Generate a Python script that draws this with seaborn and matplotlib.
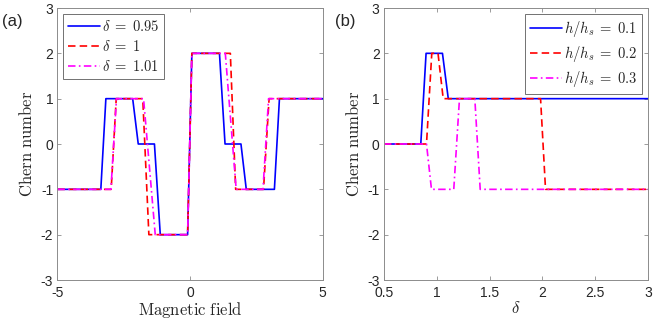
import numpy as np
import pandas as pd
import matplotlib
matplotlib.use("Agg")
import matplotlib.pyplot as plt
import seaborn as sns

# ---- Data: panel (a) ----
a_labels = [r"$\delta\;=\;0.95$", r"$\delta\;=\;1$", r"$\delta\;=\;1.01$"]
a1_x = [-5, -3.36, -3.17, -2.16, -1.95, -1.34, -1.12, -0.09, 0.07, 1.11, 1.32, 1.92, 2.12, 3.18, 3.37, 5]
a1_y = [-1, -1, 1, 1, 0, 0, -2, -2, 2, 2, 0, 0, -1, -1, 1, 1]
a2_x = [-5, -2.97, -2.78, -1.78, -1.55, -0.09, 0.07, 1.52, 1.72, 2.77, 2.98, 5]
a2_y = [-1, -1, 1, 1, -2, -2, 2, 2, -1, -1, 1, 1]
a3_x = [-5, -2.98, -2.77, -1.75, -1.31, -0.09, 0.07, 1.33, 1.74, 2.75, 2.96, 5]
a3_y = [-1, -1, 1, 1, -2, -2, 2, 2, -1, -1, 1, 1]

# ---- Data: panel (b) ----
b_labels = [r"$h/h_s\;=\;0.1$", r"$h/h_s\;=\;0.2$", r"$h/h_s\;=\;0.3$"]
b1_x = [0.5, 0.85, 0.90, 1.055, 1.11, 3]
b1_y = [0, 0, 2, 2, 1, 1]
b2_x = [0.5, 0.904, 0.954, 1.013, 1.062, 1.983, 2.03, 3]
b2_y = [0, 0, 2, 2, 1, 1, -1, -1]
b3_x = [0.5, 0.904, 0.951, 1.162, 1.216, 1.361, 1.412, 3]
b3_y = [0, 0, -1, -1, 1, 1, -1, -1]

colors = ["#0000ff", "#ff0000", "#ff00ff"]
dash_patterns = [None, (4.5, 2.5), (4.5, 2, 1, 2)]

sns.set_theme(style="white")
plt.rcParams["font.family"] = ["Liberation Sans", "DejaVu Sans"]
plt.rcParams["mathtext.fontset"] = "cm"
plt.rcParams["axes.unicode_minus"] = False

fig = plt.figure(figsize=(6.64, 3.2), dpi=100)
ax1 = fig.add_axes([0.0863, 0.125, 0.3997, 0.85])
ax2 = fig.add_axes([0.578, 0.125, 0.398, 0.85])

def draw(ax, xs, ys, labels):
    for x, y, lab, c, d in zip(xs, ys, labels, colors, dash_patterns):
        df = pd.DataFrame({"x": x, "y": y})
        kw = {} if d is None else {"dashes": d}
        sns.lineplot(data=df, x="x", y="y", ax=ax, sort=False, estimator=None,
                     color=c, linewidth=1.2, label=lab, **kw)

draw(ax1, [a1_x, a2_x, a3_x], [a1_y, a2_y, a3_y], a_labels)
draw(ax2, [b1_x, b2_x, b3_x], [b1_y, b2_y, b3_y], b_labels)

for ax in (ax1, ax2):
    ax.set_ylim(-3, 3)
    ax.set_yticks([-3, -2, -1, 0, 1, 2, 3])
    ax.tick_params(direction="in", length=3, width=0.6, colors="0.55",
                   labelcolor="#262626", labelsize=10, top=True, right=True,
                   bottom=True, left=True, pad=3)
    ax.tick_params(axis="x", pad=4)
    for s in ax.spines.values():
        s.set_color("0.55")
        s.set_linewidth(0.7)
    ax.set_ylabel(r"$\mathrm{Chern\ number}$", fontsize=12, color="#262626", labelpad=4)

ax1.set_xlim(-5, 5)
ax1.set_xticks([-5, 0, 5])
ax1.set_xlabel(r"$\mathrm{Magnetic\ field}$", fontsize=12, color="#262626", labelpad=0)
ax2.set_xlim(0.5, 3)
ax2.set_xticks([0.5, 1, 1.5, 2, 2.5, 3])
ax2.set_xticklabels(["0.5", "1", "1.5", "2", "2.5", "3"])
ax2.set_xlabel(r"$\delta$", fontsize=12, color="#262626", labelpad=0)

for ax, loc in ((ax1, "upper left"), (ax2, "upper right")):
    leg = ax.legend(loc=loc, fontsize=10.5, frameon=True, fancybox=False,
                    borderpad=0.35, labelspacing=0.35, handlelength=2.2,
                    handletextpad=0.1, borderaxespad=0.4)
    leg.get_frame().set_edgecolor("0.3")
    leg.get_frame().set_linewidth(0.7)

fig.text(0.003, 0.955, "(a)", fontsize=12, color="#262626", va="top", ha="left")
fig.text(0.505, 0.955, "(b)", fontsize=12, color="#262626", va="top", ha="left")

fig.savefig("out.png", dpi=100)
